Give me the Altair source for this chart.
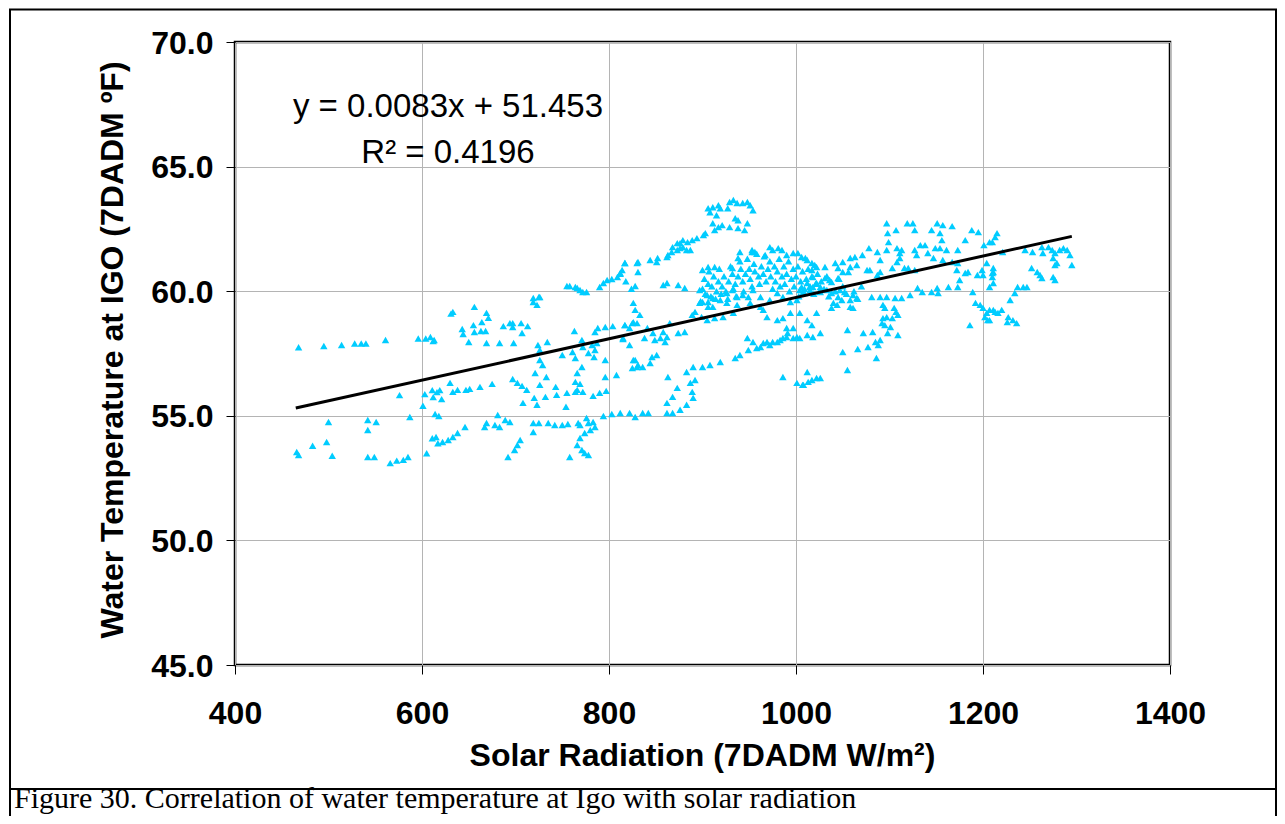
import altair as alt
import pandas as pd

# ---- data (solar radiation W/m2, water temperature F) ----
left_upper = [(468,57.75),(495,57.8),(514,57.84),(528,57.9),(535,57.9),(540,57.9),(561,58.04),
              (596,58.1),(604,58.1),(609,58.16),(613,58.04),(612,58.0)]
left_lower = [(466,53.55),(468,53.43),(483,53.8),(498,53.95),(500,54.75),(504,53.4),(542,54.83),
              (551,54.75),(542,54.43),(542,53.35),(549,53.35),(566,53.1),(573,53.2),(580,53.23),
              (585,53.35),(587,54.95),(605,53.5),(611,54.1),(615,54.15),(617,53.9),(622,53.95),
              (628,54.03),(614,55.07),(618,54.99),(633,54.15),(638,54.31),(646,54.55)]
left_mid = [(576,55.83),(601,55.4),(603,55.87),(611,56.03),(616,55.95),(619,56.03),(612,55.75),
            (621,55.67),(630,56.32),(633,55.96),(638,56.04),(647,56.04),(651,56.08),(662,56.16),(675,56.28)]
upper_630_730 = [(631,59.1),(633,59.17),(656,59.37),(669,59.13),(671,58.93),(643,58.48),(644,58.28),
                 (655,58.64),(656,58.36),(664,58.76),(663,58.4),(668,58.4),(687,58.6),(694,58.72),
                 (697,58.72),(706,58.72),(713,58.6),(697,58.56),(707,58.32),(650,57.96),(669,57.92),
                 (683,57.92),(698,57.92),(719,59.57),(725,59.77),(723,59.45),(719,59.73),(726,59.77)]
mid_700_830 = [(763,58.4),(724,57.84),(734,57.96),(726,57.64),(750,57.44),(761,57.56),(764,57.32),
               (771,58.04),(772,57.76),(778,57.52),(782,57.84),(785,57.64),(787,57.92),(784,57.36),
               (796,57.24),(785,58.36),(788,58.52),(796,58.56),(804,58.6),(817,58.64),(825,58.72),
               (830,58.72),(815,58.08),(822,57.84),(826,57.24),(830,56.96),(825,56.92),(726,57.24),
               (729,57.04),(771,56.96),(766,56.72),(764,56.36),(769,56.28),(766,56.04),(764,55.96),
               (772,55.96),(783,55.8),(790,55.92),(797,56.0),(796,56.56),(808,56.64),(721,56.72),
               (733,56.56),(726,56.24),(720,55.72),(723,55.44),(732,55.76),(743,56.16),(744,55.84),
               (755,55.92),(754,55.36),(708,55.52),(697,56.48),(702,56.32),(707,56.2),(712,56.04)]
band_54 = [(681,55.03),(678,54.63),(689,54.83),(694,54.75),(683,54.55),(669,54.71),(667,54.55),
           (719,54.71),(725,54.71),(719,54.35),(735,54.71),(742,54.63),(750,54.63),(756,54.67),
           (767,54.71),(769,54.63),(776,54.91),(778,54.71),(783,54.75),(785,54.55),(780,54.43),
           (774,54.31),(769,54.11),(766,53.83),(771,53.63),(774,53.51),(778,53.43),(758,53.35),
           (705,54.03),(702,53.83),(699,53.63),(692,53.35),(794,54.99),(803,55.07),(812,55.11),
           (822,55.11),(828,54.95),(836,55.11),(842,55.11)]
mid_820_930 = [(826,59.53),(828,59.25),(833,59.05),(817,58.64),(826,58.76),(822,58.52),(815,58.12),
               (841,58.52),(838,58.12),(847,58.32),(849,58.04),(855,58.12),(860,57.96),(862,58.16),
               (858,58.36),(865,58.72),(874,58.32),(881,58.36),(889,59.05),(892,59.17),(899,58.97),
               (905,58.84),(913,58.92),(922,58.96),(933,59.13),(844,57.12),(836,56.96),(828,57.24),
               (831,57.04),(851,57.44),(846,57.36),(883,56.76),(890,56.96),(900,56.96),(908,57.04),
               (919,57.16),(887,56.32),(892,56.44),(889,55.96),(890,55.72),(868,55.76),(862,55.52),
               (863,56.56),(883,55.44),(876,55.24),(868,55.11),(862,55.11),(873,56.12)]
lower_930_1060 = [(948,58.12),(954,57.96),(962,57.76),(969,57.96),(975,57.96),(983,58.04),(990,58.16),
                  (997,58.12),(1004,58.12),(1012,58.24),(1018,58.16),(1026,58.32),(935,57.32),(940,57.44),
                  (949,57.64),(958,57.72),(965,57.92),(972,57.84),(980,57.96),(986,58.12),(969,58.96),
                  (980,58.84),(986,58.92),(994,59.13),(1004,59.13),(1012,58.84),(1017,58.64),(1022,59.13),
                  (990,58.52),(997,58.52),(1001,58.16),(991,58.32),(986,56.56),(1001,56.32),(1007,56.24),
                  (1012,56.76),(1017,56.44),(1022,56.52),(1008,56.24),(1013,56.36),(1026,56.52),(1055,56.84)]
lower_1040_1125 = [(1050,57.56),(1055,58.44),(1066,57.68),(1077,57.76),(1085,57.96),(1088,57.84),
                   (1090,58.04),(1086,57.32),(1072,58.32),(1082,58.36),(1098,58.32),(1109,58.24),
                   (1092,58.72),(1095,58.64),(1101,58.56),(1093,58.92),(1097,58.96),(1103,58.92),
                   (1109,59.05),(1107,59.17),(1105,59.33),(1081,59.77),(1090,59.77),(1097,59.77),
                   (1106,59.73),(1113,59.73),(1122,59.85),(1093,59.45),(1095,59.33)]
right_lower = [(1130,60.13),(1135,59.97),(1145,59.97),(1151,60.13),(1152,59.93),(1163,60.17),(1173,60.17),
               (1175,60.45),(1186,58.64),(1189,59.97),(1192,59.53),(1197,59.45),(1200,59.33),(1202,58.96),
               (1205,58.84),(1204,59.13),(1211,59.25),(1216,59.13),(1220,59.25),(1227,58.96),(1232,58.84),
               (1236,58.72),(1226,58.76),(1207,59.25),(1213,59.17),(1207,58.84),(1229,59.65),(1234,59.93),
               (1237,60.17),(1243,60.17),(1247,60.17)]
right_upper = [(1097,62.73),(1098,62.33),(1099,61.97),(1107,62.45),(1119,62.73),(1125,62.73),(1127,62.45),
               (1151,62.73),(1157,62.65),(1167,62.61),(1145,62.45),(1154,62.33),(1156,62.05),(1188,62.45),
               (1195,62.37),(1181,62.05),(1201,61.85),(1207,61.97),(1215,62.33),(1213,62.17),(1210,61.97),
               (1097,61.65),(1108,61.73),(1111,61.53),(1113,61.65),(1127,61.65),(1133,61.85),(1138,61.85),
               (1149,61.73),(1154,61.73),(1161,61.65),(1173,61.65),(1221,61.57),(1245,61.65),(1253,61.57),
               (1263,61.77),(1264,61.53),(1270,61.77),(1274,61.65),(1277,61.53),(1282,61.65),(1286,61.73),
               (1290,61.65),(1293,61.45),(1295,61.05),(1275,61.33),(1277,61.05),(1279,61.13),(1252,60.93),
               (1258,60.77),(1261,60.65),(1263,60.53),(1275,60.57),(1277,60.45),(1211,60.77),(1210,60.57),
               (1211,60.33),(1207,60.17)]
band_1000_1220 = [(1010,61.33),(1020,61.05),(1017,60.85),(1018,60.57),(1031,60.97),(1038,60.37),(1031,60.53),
                  (1045,60.93),(1045,60.53),(1050,60.77),(1058,60.97),(1056,60.77),(1065,61.05),(1076,60.85),
                  (1079,60.85),(1087,60.65),(1090,60.77),(1103,60.93),(1108,61.17),(1111,61.33),(1116,60.93),
                  (1120,60.93),(1127,60.85),(1129,61.45),(1141,61.53),(1147,61.33),(1157,61.25),(1167,61.17),
                  (1173,61.13),(1172,60.85),(1181,60.73),(1184,60.77),(1194,60.65),(1200,60.65),(1210,60.73),
                  (1211,60.93),(1199,60.85),(1204,61.13),(1042,61.13),(1050,61.17),(1058,61.33),(1063,61.37),
                  (1071,61.45),(1078,61.73),(1087,61.57),(1090,61.25),(1004,60.05),(1009,59.93),(1015,60.05),
                  (1026,59.97),(1033,60.05),(1038,59.93),(1047,60.05),(1052,59.97),(1061,59.85),(1065,59.73),
                  (1045,59.77),(1049,59.65),(1040,59.53),(1038,59.33),(1044,59.45),(1058,59.37),(1058,59.65),
                  (1061,59.33),(1036,60.45),(1026,60.17),(1018,60.17),(1012,60.33),(1006,60.17)]
hump_900_955 = [(906,63.33),(908,63.17),(911,63.37),(917,63.45),(919,63.33),(929,63.58),(933,63.66),
                (937,63.54),(927,63.33),(943,63.54),(948,63.58),(951,63.45),(954,63.25),(915,63.05),
                (911,62.73),(917,62.57),(913,62.45),(921,62.65),(929,62.57),(935,62.93),(938,62.85),
                (938,62.53),(945,62.45),(948,62.73),(903,62.33),(901,62.25),(894,62.13),(889,62.05),
                (884,61.97),(879,62.05),(876,61.93),(873,61.93),(868,61.77),(867,61.57),(863,61.45),
                (862,61.37),(852,61.33),(851,61.17),(844,61.25),(831,61.17),(817,61.13),(831,60.77),
                (873,61.65),(876,61.73),(879,61.77),(883,61.65),(887,61.65),(940,61.57),(953,61.65),
                (956,61.57),(967,61.45),(972,61.77),(975,61.65),(981,61.73),(985,61.65),(990,61.45),
                (997,61.53),(1002,61.53),(1006,61.37),(1012,61.25),(1017,61.13),(1022,60.97)]
rise_755_960 = [(755,60.21),(758,60.21),(764,60.17),(766,60.13),(769,60.05),(772,59.97),(776,59.97),
                (790,60.17),(794,60.33),(798,60.45),(803,60.49),(809,60.57),(812,60.73),(814,60.85),
                (817,61.13),(828,60.21),(830,61.13),(812,60.7),(818,60.4),(824,60.1),(858,60.25),
                (862,60.33),(874,60.25),(881,60.13),(900,60.85),(906,60.97),(913,60.97),(932,60.93),
                (938,61.33),(953,61.57)]
dense_core = [(897,60.05),(905,59.85),(911,59.73),(900,59.57),(906,59.37),(919,59.65),(926,59.93),
              (932,60.05),(937,59.77),(943,59.85),(949,59.77),(954,60.05),(962,59.77),(972,59.65),
              (980,59.93),(986,59.77),(994,59.57),(1001,59.65),(1007,59.93),(1015,60.17),(1022,60.33),
              (897,59.53),(906,59.57),(911,59.37),(926,59.53),(937,59.45),(951,59.53),(962,59.37),
              (965,59.25),(898,59.6),(900,60.1),(902,60.5),(903,59.9),(906,60.3),(907,60.8),(909,59.8),
              (910,60.2),(912,60.6),(914,59.7),(915,60.0),(917,60.4),(918,60.9),(920,59.9),(921,60.2),
              (923,60.6),(925,60.0),(927,59.7),(928,60.4),(930,61.0),(932,60.7),(933,60.1),(935,60.3),
              (936,59.8),(938,60.6),(940,61.2),(941,60.9),(943,60.4),(944,60.0),(946,60.7),(948,61.3),
              (950,60.9),(951,60.5),(953,60.2),(955,61.1),(956,60.8),(958,61.5),(960,60.6),(961,60.3),
              (963,61.0),(965,60.7),(966,61.4),(968,60.4),(970,60.9),(972,61.2),(973,60.6),(975,60.1),
              (977,61.0),(978,60.4),(980,60.8),(982,61.3),(983,60.2),(985,60.6),(987,61.0),(988,60.3),
              (990,60.7),(992,61.2),(993,60.0),(995,60.5),(997,60.9),(998,60.2),(1000,60.6),(1002,61.0),
              (1003,59.8),(1005,60.4),(1007,60.8),(1009,60.1),(1011,60.5),(1013,60.9),(1015,60.2),
              (1017,60.6),(1019,59.9),(1021,60.3),(1023,60.7),(1025,60.0),(1027,60.4),(1030,60.1),
              (1033,60.6),(1035,59.8),(1042,60.0),(1046,60.5),(1050,60.2),(1054,59.9),(1062,60.0),
              (1066,59.7),(1070,60.2)]

clusters = [left_upper, left_lower, left_mid, upper_630_730, mid_700_830, band_54, mid_820_930,
            lower_930_1060, lower_1040_1125, right_lower, right_upper, band_1000_1220,
            hump_900_955, rise_755_960, dense_core]
df = pd.DataFrame([{"solar": x, "temp": y} for c in clusters for (x, y) in c])

trend_solar = [465, 1295]
trend_temp = [55.31, 62.20]
trend_df = pd.DataFrame({"solar": trend_solar, "temp": trend_temp})

x_ticks = [400, 600, 800, 1000, 1200, 1400]
y_ticks = [45, 50, 55, 60, 65, 70]

equation = "y = 0.0083x + 51.453"
r_squared = "R² = 0.4196"
x_title = "Solar Radiation (7DADM W/m²)"
y_title = "Water Temperature at IGO (7DADM ºF)"
caption = "Figure 30. Correlation of water temperature at Igo with solar radiation"

SANS = "Liberation Sans"
SERIF = "Liberation Serif"

xscale = alt.Scale(domain=[400, 1400], nice=False, zero=False)
yscale = alt.Scale(domain=[45, 70], nice=False, zero=False)

x_axis = alt.Axis(values=x_ticks, format="d", title=None, grid=True, gridColor="#b4b4b4",
                  gridWidth=1, domain=False, ticks=True, tickColor="black", tickSize=9,
                  labelFont=SANS, labelFontWeight="bold", labelFontSize=32, labelColor="black",
                  labelPadding=24, labelFlush=False, labelOverlap=False)
y_axis = alt.Axis(values=y_ticks, format=".1f", title=None, grid=True, gridColor="#b4b4b4",
                  gridWidth=1, domain=False, ticks=True, tickColor="black", tickSize=9,
                  labelFont=SANS, labelFontWeight="bold", labelFontSize=32, labelColor="black",
                  labelPadding=13, labelFlush=False, labelOverlap=False, labelOffset=1)

points = alt.Chart(df).mark_point(shape="triangle-up", filled=True, size=55,
                                  color="#00CCFF", opacity=1).encode(
    x=alt.X("solar:Q", scale=xscale, axis=x_axis),
    y=alt.Y("temp:Q", scale=yscale, axis=y_axis),
)

trend = alt.Chart(trend_df).mark_line(color="black", strokeWidth=3).encode(
    x=alt.X("solar:Q", scale=xscale),
    y=alt.Y("temp:Q", scale=yscale),
)

one = pd.DataFrame({"k": [0]})


def label(text, x, y, size=32, weight="normal", font=SANS, align="center",
          baseline="alphabetic", angle=0):
    return alt.Chart(pd.DataFrame({"t": [text]})).mark_text(
        font=font, fontSize=size, fontWeight=weight, color="black", align=align,
        baseline=baseline, angle=angle,
    ).encode(x=alt.value(x), y=alt.value(y), text="t:N")


def hline(x1, x2, y, w=2):
    return alt.Chart(one).mark_rule(color="black", strokeWidth=w).encode(
        x=alt.value(x1), x2=alt.value(x2), y=alt.value(y))


def vline(x, y1, y2, w=2):
    return alt.Chart(one).mark_rule(color="black", strokeWidth=w).encode(
        x=alt.value(x), y=alt.value(y1), y2=alt.value(y2))


layers = [
    points,
    trend,
    label(equation, 213, 75, size=33),
    label(r_squared, 213, 121, size=33),
    label(x_title, 467.5, 724, weight="bold"),
    label(y_title, -122, 308, weight="bold", baseline="middle", angle=270),
    label(caption, -221, 766, size=30, font=SERIF, align="left"),
    hline(-226, 1042, -32.5),
    hline(-226, 1042, 747),
    vline(-225, -33, 774),
    vline(1041, -33, 774),
]

chart = alt.layer(*layers).properties(
    width=935,
    height=623,
    padding={"left": 227, "top": 34, "right": 107, "bottom": 151},
    autosize=alt.AutoSizeParams(type="none"),
    background="white",
).configure_view(stroke="black", strokeWidth=2.5)

chart.save("out.html", embed_options={"renderer": "svg", "actions": False})
